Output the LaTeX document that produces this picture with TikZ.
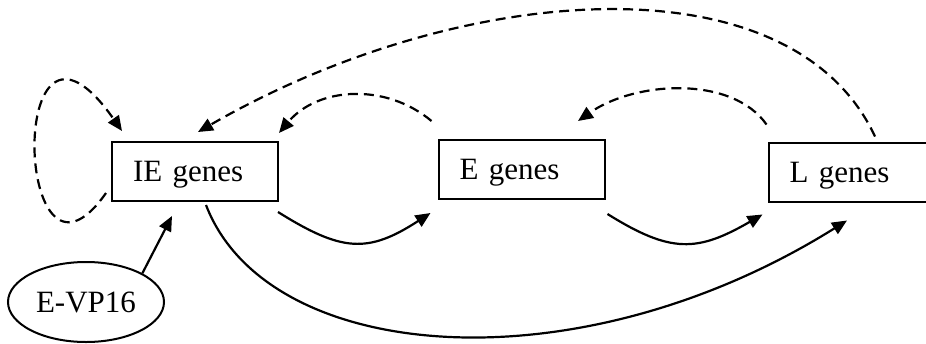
\documentclass[tikz,border=0pt]{standalone}
\usepackage{fontspec}
\setmainfont{Liberation Serif}
\usetikzlibrary{shapes.geometric, arrows.meta}

\begin{document}
\begin{tikzpicture}[
    x=0.5pt, y=0.5pt,
    every node/.style = {font=\fontsize{15.5}{18}\selectfont},
    gene/.style = {
        rectangle, draw, line width=1pt,
        text width=62pt, align=left, inner xsep=10.5pt,
        minimum height=29.5pt, text depth=0pt
    },
    inducer/.style = {
        ellipse, draw, line width=1pt,
        minimum width=78pt, minimum height=40pt,
        inner sep=0pt, text depth=0pt
    },
    arrow/.style    = {-{Triangle[length=7.5pt, width=6.5pt]}, line width=1.1pt},
    feedback/.style = {arrow, dash pattern=on 5pt off 3pt},
]
\useasboundingbox (0,0) rectangle (926,-343);

% --- gene classes ---
\node[gene]    (IE) at (195,-171.5)  {IE genes};
\node[gene]    (E)  at (521.5,-169.5) {E genes};
\node[gene]    (L)  at (851.5,-172)  {L genes};
\node[inducer] (VP) at (86,-302)     {E-VP16};

% --- cascade (solid) ---
\draw[arrow] ([shift={(-1,-10)}]IE.south east)
    .. controls +(328:75) and +(213:75) .. ([shift={(-7,-13)}]E.south west);
\draw[arrow] ([shift={(2,-14)}]E.south east)
    .. controls +(328:75) and +(210:75) .. ([shift={(-5,-12)}]L.south west);
\draw[arrow] ([shift={(11,-3)}]IE.south)
    .. controls +(291:170) and +(212:320) .. ([shift={(-4.5,-18)}]L.south);
\draw[arrow] (VP.27) -- ([shift={(-23,-14)}]IE.south);

% --- feedback (dashed) ---
\draw[feedback] ([shift={(-5,9)}]IE.south west)
    .. controls +(235:160) and +(125:205) .. ([shift={(11,10)}]IE.north west);
\draw[feedback] ([shift={(-6,18)}]E.north west)
    .. controls +(140:60) and +(50:60) .. ([shift={(0,8)}]IE.north east);
\draw[feedback] ([shift={(-1,17)}]L.north west)
    .. controls +(125:60) and +(35:70) .. ([shift={(56.5,18)}]E.north);
\draw[feedback] ([shift={(23.5,5)}]L.north)
    .. controls +(115:200) and +(30:300) .. ([shift={(3,9)}]IE.north);

\end{tikzpicture}
\end{document}
